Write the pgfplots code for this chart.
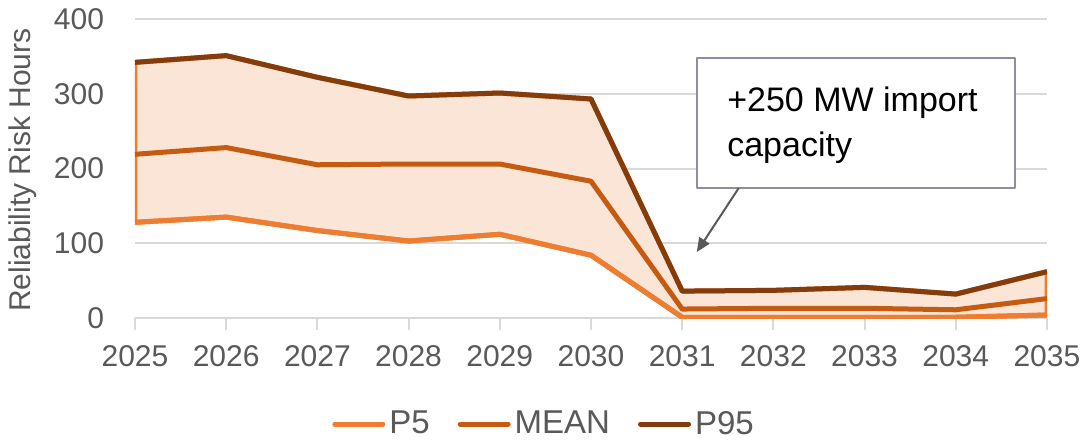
\documentclass[border=0pt]{standalone}
\usepackage{pgfplots}
\pgfplotsset{compat=1.18}
\usepackage{fontspec}
\setmainfont{Liberation Sans}
\usetikzlibrary{arrows.meta}
\definecolor{cP5}{HTML}{ED7D31}
\definecolor{cMEAN}{HTML}{C55A11}
\definecolor{cP95}{HTML}{843C0C}
\definecolor{cFill}{HTML}{FBE5D6}
\definecolor{cGrid}{HTML}{D9D9D9}
\definecolor{cTxt}{HTML}{595959}
\definecolor{cBox}{HTML}{8E8EA2}
\begin{document}
\begin{tikzpicture}
\path[use as bounding box] (-67.5pt,-61.5pt) rectangle (476pt,159pt);
\begin{axis}[
  at={(0,0)}, anchor=south west,
  scale only axis, width=456pt, height=149.5pt,
  xmin=2025, xmax=2035, ymin=0, ymax=400,
  xtick={2025,...,2035}, ytick={0,100,200,300,400},
  /pgf/number format/assume math mode=true,
  /pgf/number format/1000 sep={},
  axis lines*=left,
  x axis line style={draw=cGrid, line width=1pt},
  y axis line style={draw=none},
  ymajorgrids, grid style={draw=cGrid, line width=1pt},
  tick align=outside, major tick length=6pt,
  xtick style={draw=cGrid, line width=1pt},
  ytick style={draw=none},
  ticklabel style={font=\fontsize{15}{18}\selectfont, text=cTxt},
  xticklabel style={yshift=-4pt},
  yticklabel style={xshift=-6pt},
  ylabel={Reliability Risk Hours},
  every axis y label/.style={at={(axis description cs:-0.1236,0.495)}, rotate=90, anchor=center, font=\fontsize{15}{18}\selectfont, text=cTxt},
  legend style={at={(0.4496,-0.3545)}, anchor=center, draw=none, legend columns=3,
    font=\fontsize{16.5}{19}\selectfont, text=cTxt,
    /tikz/every even column/.append style={column sep=12pt}},
  legend image code/.code={\draw[#1, line cap=round] (0pt,0pt) -- (24pt,0pt);},
  line join=round,
]
\addplot[fill=cFill, draw=cP5, line width=2.5pt, forget plot] coordinates {
  (2025,128) (2026,135) (2027,117) (2028,103) (2029,112) (2030,84)
  (2031,1) (2032,1) (2033,1) (2034,1) (2035,4)
  (2035,62) (2034,32) (2033,41) (2032,37) (2031,36)
  (2030,293) (2029,301) (2028,297) (2027,322) (2026,351) (2025,342)
} -- cycle;
\addplot[cP5, line width=2.5pt] coordinates {
  (2025,128) (2026,135) (2027,117) (2028,103) (2029,112) (2030,84)
  (2031,1) (2032,1) (2033,1) (2034,1) (2035,4)};
\addlegendentry{P5}
\addplot[cMEAN, line width=2.5pt] coordinates {
  (2025,219) (2026,228) (2027,205) (2028,206) (2029,206) (2030,183)
  (2031,12) (2032,13) (2033,13) (2034,11) (2035,26)};
\addlegendentry{MEAN}
\addplot[cP95, line width=2.5pt] coordinates {
  (2025,342) (2026,351) (2027,322) (2028,297) (2029,301) (2030,293)
  (2031,36) (2032,37) (2033,41) (2034,32) (2035,62)};
\addlegendentry{P95}
\draw[draw=cBox, fill=white, line width=0.8pt] (axis cs:2031.16,347.8) rectangle (axis cs:2034.65,173.9);
\node[anchor=base west, inner sep=0pt, font=\fontsize{17}{22.5}\selectfont, align=left] at (axis cs:2031.49,215.8) {+250 MW import\\capacity};
\draw[-{Triangle[length=7pt,width=6pt]}, draw=cTxt, fill=cTxt, line width=1pt] (axis cs:2031.62,173.9) -- (axis cs:2031.16,88.3);
\end{axis}
\end{tikzpicture}
\end{document}
